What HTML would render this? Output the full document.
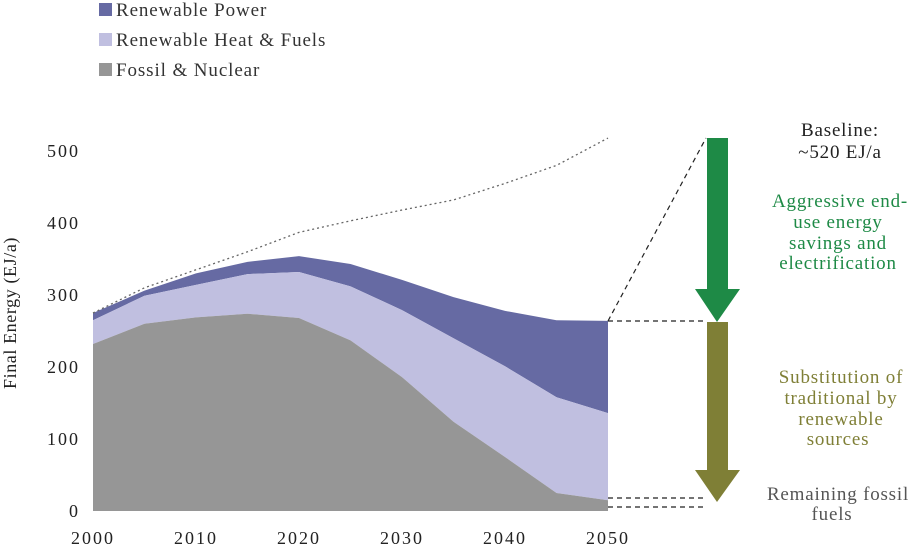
<!DOCTYPE html>
<html><head><meta charset="utf-8"><style>
body{margin:0;background:#fff}
svg{display:block;font-family:"Liberation Serif",serif}
</style></head><body>
<svg id="c" width="912" height="548">
<g id="legend">
<rect x="99" y="3" width="13" height="13" fill="#666aa3"/>
<text x="116" y="16" font-size="19" letter-spacing="0.9" fill="#333">Renewable Power</text>
<rect x="99" y="33" width="13" height="13" fill="#c0bfe0"/>
<text x="116" y="46" font-size="19" letter-spacing="0.9" fill="#333">Renewable Heat &amp; Fuels</text>
<rect x="99" y="63" width="13" height="13" fill="#969696"/>
<text x="116" y="76" font-size="19" letter-spacing="0.9" fill="#333">Fossil &amp; Nuclear</text>
</g>
<g id="areas"></g>
<g id="axes"></g>
<text transform="translate(16,313) rotate(-90)" text-anchor="middle" font-size="18" letter-spacing="0.6" fill="#222">Final Energy (EJ/a)</text>
<g>
<line x1="608" y1="321" x2="706" y2="138" stroke="#222" stroke-width="1.2" stroke-dasharray="5,4"/>
<line x1="608" y1="321" x2="707" y2="321" stroke="#222" stroke-width="1.2" stroke-dasharray="5,4"/>
<line x1="608" y1="498" x2="707" y2="498" stroke="#222" stroke-width="1.2" stroke-dasharray="5,4"/>
<line x1="608" y1="507" x2="707" y2="507" stroke="#222" stroke-width="1.2" stroke-dasharray="5,4"/>
<polygon points="707,138 728,138 728,289 740,289 717,322 695,289 707,289" fill="#1e8a46"/>
<polygon points="707,322 728,322 728,470 740,470 717,502 695,470 707,470" fill="#7f7f36"/>
<g font-size="19" letter-spacing="0.8" text-anchor="middle">
<text fill="#222"><tspan x="840" y="136">Baseline:</tspan><tspan x="840" y="158">~520 EJ/a</tspan></text>
<text fill="#1e8a46"><tspan x="840" y="207">Aggressive end-</tspan><tspan x="838" y="228">use energy</tspan><tspan x="838" y="249">savings and</tspan><tspan x="838" y="269">electrification</tspan></text>
<text fill="#7f7f36"><tspan x="841" y="383">Substitution of</tspan><tspan x="841" y="404">traditional  by</tspan><tspan x="841" y="425">renewable</tspan><tspan x="838" y="445">sources</tspan></text>
<text fill="#555"><tspan x="838" y="500">Remaining fossil</tspan><tspan x="832" y="520">fuels</tspan></text>
</g>
</g>
</svg>
<script>
const years=[2000,2005,2010,2015,2020,2025,2030,2035,2040,2045,2050];
const fossil=[232,260,269,274,268,237,186,124,75,25,15];
const heat=[33,39,45,55,64,75,93,116,126,133,121];
const power=[10,7,16,17,22,31,42,57,77,107,128];
const baseline=[275,310,335,360,387,403,418,432,455,480,518];
const yTicks=[0,100,200,300,400,500];
const xTicks=[2000,2010,2020,2030,2040,2050];
const NS="http://www.w3.org/2000/svg";
const X=v=>93+(v-2000)*10.3;
const Y=v=>511-v*0.72;
const ag=document.getElementById('areas'),ax=document.getElementById('axes');
function mk(t,a,p){const e=document.createElementNS(NS,t);for(const k in a)e.setAttribute(k,a[k]);p.appendChild(e);return e;}
const l1=fossil.slice(),l2=fossil.map((v,i)=>v+heat[i]),l3=l2.map((v,i)=>v+power[i]);
function area(top,bot,fill,name){
 let d='M'+years.map((y,i)=>X(y)+','+Y(top[i])).join('L');
 for(let i=years.length-1;i>=0;i--)d+='L'+X(years[i])+','+Y(bot[i]);
 const p=mk('path',{d:d+'Z',fill:fill},ag);
 
 
}
const zero=years.map(()=>0);
area(l3,l2,'#666aa3','area-renewable-power');
area(l2,l1,'#c0bfe0','area-renewable-heat');
area(l1,zero,'#969696','area-fossil-nuclear');
const bl=mk('polyline',{points:years.map((y,i)=>X(y)+','+Y(baseline[i])).join(' '),fill:'none',stroke:'#666','stroke-width':1.3,'stroke-dasharray':'2,3'},ag);


yTicks.forEach(v=>{const t=mk('text',{x:80,y:Y(v)+6,'text-anchor':'end','font-size':18,'letter-spacing':2,fill:'#222'},ax);t.textContent=v;

});
xTicks.forEach(v=>{const t=mk('text',{x:X(v),y:544,'text-anchor':'middle','font-size':18,'letter-spacing':2,fill:'#222'},ax);t.textContent=v;

});
</script>
</body></html>
